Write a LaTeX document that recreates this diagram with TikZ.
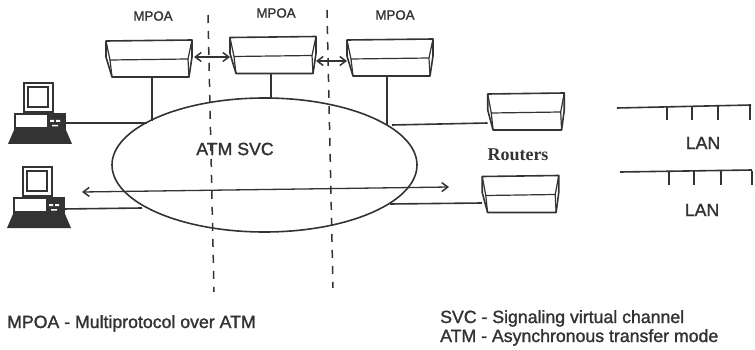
\documentclass[tikz,border=0pt]{standalone}
\usepackage{fontspec}
\setmainfont{Liberation Sans}
\newfontfamily\lbfont[FakeBold=1.5]{Liberation Sans}
\newfontfamily\rserif{Liberation Serif}
\usetikzlibrary{arrows.meta,shapes.geometric}
\definecolor{ink}{gray}{0.2}
\tikzset{
  x=1pt,y=-1pt,
  ln/.style={draw=ink,line width=1.6pt},
  thin ln/.style={draw=ink,line width=1.2pt},
  box/.style={draw=none,minimum width=86pt,minimum height=36pt,inner sep=0pt,outer sep=0pt},
  lbl/.style={text=ink,font=\lbfont\fontsize{17.7}{19}\selectfont,inner sep=0pt},
  hublbl/.style={lbl,font=\lbfont\fontsize{13.3}{15}\selectfont},
  dbl/.style={draw=ink,line width=1.3pt,{Straight Barb[length=6pt,width=9pt,line width=1.5pt]}-{Straight Barb[length=6pt,width=9pt,line width=1.5pt]}},
  dashline/.style={draw=ink,line width=1.5pt,dash pattern=on 8pt off 8pt},
  pics/hub/.style={code={
    \draw[ln,line join=round] (-43,-18) -- (43,-19) -- (43,-2) -- (40,18) -- (-37,18) -- (-43,-2) -- cycle;
    \draw[thin ln] (-39,1) -- (39,0);
    \draw[thin ln] (-43,-18) -- (-39,1) -- (-37,18);
    \draw[thin ln] (43,-19) -- (39,0) -- (40,18);
  }},
  pics/pc/.style={code={
    \draw[ln] (24,-40) rectangle (53,-11);
    \draw[ln] (28,-36) rectangle (48,-16);
    \fill[ink] (14,-10) rectangle (66,8);
    \fill[white] (16,-8) rectangle (47,4);
    \fill[white] (50,-3) rectangle (54,-1) (56,-3) rectangle (60,-1) (52,2) rectangle (58,3.5);
    \fill[ink] (14,7) -- (66,7) -- (72,21) -- (8,21) -- cycle;
  }},
}
\begin{document}
\begin{tikzpicture}
\useasboundingbox (0,0) rectangle (755,350);
\node[box] (m1) at (149,59) {};
\node[box] (m2) at (273,55.5) {};
\node[box] (m3) at (390,58) {};
\node[box,minimum width=77pt] (r1) at (526,112) {};
\node[box,minimum width=77pt] (r2) at (520.5,194.5) {};
\coordinate (c1) at (66,123);
\coordinate (c2) at (63,209);
\pic at (m1) {hub};
\pic at (m2) {hub};
\pic at (m3) {hub};
\pic[xscale=0.89] at (r1) {hub};
\pic[xscale=0.89] at (r2) {hub};
\pic at (0,123) {pc};
\pic at (-1,207) {pc};
\node[ellipse,draw=ink,line width=1.6pt,minimum width=305pt,minimum height=134pt,inner sep=0pt,outer sep=0pt] (atm) at (264.5,165) {};
\draw[ln] (m1.south) ++(3,0) coordinate (s1) -- (s1 |- 0,121);
\draw[ln] (m2.south) ++(-2,0) coordinate (s2) -- (s2 |- atm.north);
\draw[ln] (m3.south) ++(-3,0) coordinate (s3) -- (s3 |- 0,125);
\draw[ln] (c1) -- (147,123);
\draw[ln] (c2) -- (142,208);
\coordinate (e1) at (392,125);
\coordinate (e2) at (390,204);
\draw[ln] (e1) -- (r1.west |- 0,123) ;
\draw[ln] (e2) -- (r2.west |- 0,203);
\coordinate (a1) at (82,192);
\coordinate (a2) at (449,187);
\draw[dbl] (a1) -- (a2);
\draw[dbl] (m1.east) ++(2,-2) coordinate (d1) -- (d1 -| m2.west);
\draw[dbl] (m2.east) ++(0,5.5) coordinate (d2) -- (d2 -| m3.west);
\coordinate (v1a) at (208,15);
\coordinate (v1b) at (214,292);
\coordinate (v2a) at (327,10);
\coordinate (v2b) at (333,288);
\draw[dashline] (v1a) -- (v1b);
\draw[dashline] (v2a) -- (v2b);
\coordinate (l1a) at (617,108);
\coordinate (l1b) at (751,105);
\draw[ln] (l1a) -- (l1b);
\foreach \x/\n in {667/a,692/b,718/c,750/d}{ \coordinate (p\n) at (\x,106.5); \draw[ln] (p\n) -- ++(0,13.5); }
\coordinate (l2a) at (620,172);
\coordinate (l2b) at (752,170);
\draw[ln] (l2a) -- (l2b);
\foreach \x/\n in {669/a,694/b,721/c,752/d}{ \coordinate (q\n) at (\x,171); \draw[ln] (q\n) -- ++(0,14); }
\node[hublbl] (t1) at (153,16) {MPOA};
\node[hublbl] (t2) at (276,13) {MPOA};
\node[hublbl] (t3) at (395,15) {MPOA};
\node[lbl] (t4) at (235,149) {ATM SVC};
\node[lbl,font=\rserif\bfseries\fontsize{18}{20}\selectfont] (t5) at (518,155) {Routers};
\node[lbl] (t6) at (703,143) {LAN};
\node[lbl] (t7) at (702,210) {LAN};
\node[lbl,anchor=base west] (t8) at (7,328) {MPOA - Multiprotocol over ATM};
\node[lbl,anchor=base west] (t9) at (440,323) {SVC - Signaling virtual channel};
\node[lbl,anchor=base west] (t10) at (440,342) {ATM - Asynchronous transfer mode};
\end{tikzpicture}
\end{document}
